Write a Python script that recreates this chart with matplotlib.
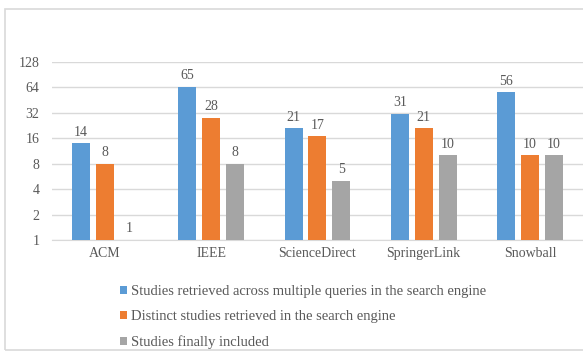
import matplotlib.pyplot as plt
import numpy as np
from matplotlib.patches import Rectangle

sources = ["ACM", "IEEE", "ScienceDirect", "SpringerLink", "Snowball"]
retrieved = [14, 65, 21, 31, 56]
distinct = [8, 28, 17, 21, 10]
included = [1, 8, 5, 10, 10]
series_names = [
    "Studies retrieved across multiple queries in the search engine",
    "Distinct studies retrieved in the search engine",
    "Studies finally included",
]
colors = ["#5B9BD5", "#ED7D31", "#A5A5A5"]
yticks = [1, 2, 4, 8, 16, 32, 64, 128]

plt.rcParams['font.family'] = ['Liberation Serif', 'DejaVu Serif']
text_color = "#595959"

fig = plt.figure(figsize=(5.83, 3.56), dpi=100)
ax = fig.add_axes([0.089, 0.326, 0.911, 0.500])

# light frame round the whole chart (right side runs off the picture)
fig.patches.append(Rectangle((0.009, 0.017), 1.0, 0.958, transform=fig.transFigure,
                             fill=False, edgecolor="#D9D9D9", lw=1.2))

x = np.arange(len(sources))
width = 0.17
step = 0.225
for i, (vals, color, name) in enumerate(zip([retrieved, distinct, included], colors, series_names)):
    pos = x + (i - 1) * step
    ax.bar(pos, vals, width=width, color=color, label=name, zorder=3)
    for p, v in zip(pos, vals):
        ax.text(p, v * 1.13, str(v), ha="center", va="bottom", fontsize=10, color=text_color)

ax.set_yscale("log", base=2)
ax.set_ylim(1, 128)
ax.set_yticks(yticks)
ax.set_yticklabels([str(t) for t in yticks])
ax.minorticks_off()
ax.set_xlim(-0.5, len(sources) - 0.5)
ax.set_xticks(x)
ax.set_xticklabels(sources)
ax.tick_params(axis="both", length=0, labelsize=10, colors=text_color)
ax.tick_params(axis="x", pad=5)
ax.tick_params(axis="y", pad=9)
ax.grid(axis="y", color="#D9D9D9", lw=1, zorder=0)
for s in ["top", "right", "left"]:
    ax.spines[s].set_visible(False)
ax.spines["bottom"].set_color("#D9D9D9")

ax.legend(loc="upper left", bbox_to_anchor=(0.205, 0.199), bbox_transform=fig.transFigure,
          frameon=False, fontsize=10.5, labelcolor=text_color, borderpad=0, borderaxespad=0,
          handlelength=0.5, handleheight=0.5, handletextpad=0.3, labelspacing=0.82)

fig.savefig("out.png", dpi=100)
